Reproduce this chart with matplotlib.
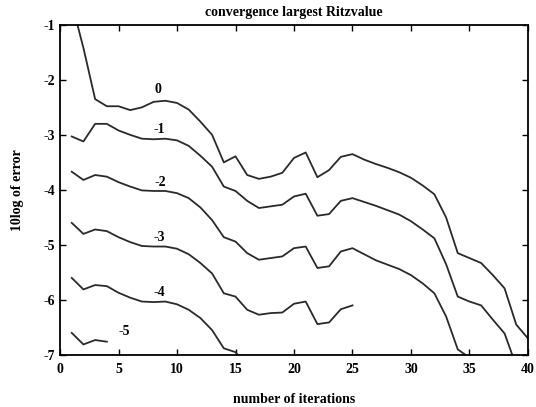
import matplotlib.pyplot as plt
import numpy as np

# iterations 1..40, curves labelled by exponent of the shift
it = np.arange(1, 41)
c0 = [-0.6, -1.42, -2.35, -2.48, -2.48, -2.55, -2.5, -2.4, -2.38, -2.42,
      -2.54, -2.76, -3.0, -3.5, -3.39, -3.73, -3.8, -3.76, -3.69, -3.42,
      -3.32, -3.77, -3.64, -3.4, -3.35, -3.45, -3.53, -3.6, -3.68, -3.78,
      -3.92, -4.08, -4.5, -5.15, -5.24, -5.33, -5.55, -5.79, -6.45, -6.7]
c1 = [-3.03, -3.12, -2.8, -2.8, -2.92, -3.0, -3.07, -3.08, -3.07, -3.1,
      -3.2, -3.38, -3.58, -3.94, -4.02, -4.2, -4.33, -4.3, -4.27, -4.12,
      -4.07, -4.47, -4.44, -4.2, -4.15, -4.22, -4.29, -4.37, -4.45, -4.57,
      -4.72, -4.88, -5.35, -5.94, -6.03, -6.1, -6.36, -6.61, -7.2]
c2 = [-3.67, -3.82, -3.73, -3.76, -3.86, -3.94, -4.01, -4.02, -4.02, -4.06,
      -4.15, -4.32, -4.55, -4.86, -4.94, -5.15, -5.27, -5.24, -5.21, -5.06,
      -5.03, -5.42, -5.39, -5.12, -5.06, -5.17, -5.28, -5.36, -5.44, -5.55,
      -5.7, -5.88, -6.3, -6.9, -7.05]
c3 = [-4.6, -4.8, -4.72, -4.75, -4.86, -4.95, -5.02, -5.03, -5.03, -5.07,
      -5.17, -5.33, -5.52, -5.88, -5.94, -6.18, -6.27, -6.24, -6.23, -6.07,
      -6.03, -6.44, -6.41, -6.17, -6.1]
c4 = [-5.6, -5.81, -5.73, -5.75, -5.87, -5.96, -6.03, -6.04, -6.03, -6.08,
      -6.18, -6.33, -6.55, -6.88, -6.95, -7.2]
c5 = [-6.6, -6.81, -6.73, -6.76]
curves = [c0, c1, c2, c3, c4, c5]
labels = ['0', '-1', '-2', '-3', '-4', '-5']
label_pos = [(8.4, -2.18), (8.5, -2.91), (8.6, -3.87), (8.5, -4.87), (8.5, -5.87), (5.5, -6.58)]

plt.rcParams['font.family'] = 'Liberation Serif'
plt.rcParams['font.weight'] = 'bold'
plt.rcParams['axes.unicode_minus'] = False

fig = plt.figure(figsize=(5.36, 4.07), dpi=100)
ax = fig.add_axes([0.112, 0.128, 0.873, 0.811])

for c, lab, (lx, ly) in zip(curves, labels, label_pos):
    ax.plot(it[:len(c)], c, color='#2a2a2a', lw=1.3)
    ax.text(lx, ly, lab, fontsize=10, fontweight='bold', ha='center', va='center')

ax.set_xlim(0, 40)
ax.set_ylim(-7, -1)
ax.set_xticks(range(0, 41, 5))
ax.set_yticks(range(-7, 0))
ax.tick_params(direction='in', top=True, right=True, length=4, labelsize=10, width=1)
ax.tick_params(axis='x', pad=6)
for s in ax.spines.values():
    s.set_linewidth(1.3)
for t in ax.get_xticklabels() + ax.get_yticklabels():
    t.set_fontweight('bold')

ax.set_title('convergence largest Ritzvalue', fontsize=10, fontweight='bold', pad=6)
ax.set_xlabel('number of iterations', fontsize=10, fontweight='bold', labelpad=12)
ax.set_ylabel('10log of error', fontsize=10, fontweight='bold', labelpad=14)

plt.savefig('out.png', dpi=100)
